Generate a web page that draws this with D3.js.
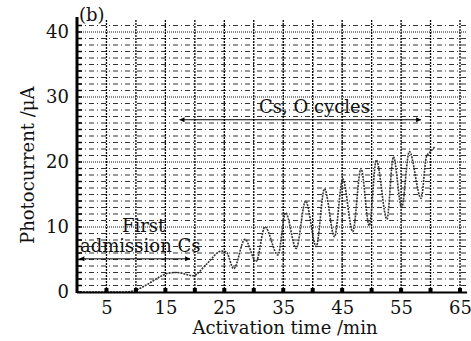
<!DOCTYPE html>
<html>
<head>
<meta charset="utf-8">
<script src="https://cdn.jsdelivr.net/npm/d3@7"></script>
<style>
  body { margin: 0; background: #fff; }
</style>
</head>
<body>
<div id="chart"></div>
<script>
// Photocurrent vs activation time (panel b)

// Data
const times = [0, 5, 8, 10, 12, 14, 15.5, 17, 19.7, 22, 24.5, 25.3, 26.6, 28.5, 30.4, 31.9, 34.1, 35.4, 37.2,
    38.8, 40.6, 42.0, 43.7, 45.1, 46.8, 48.2, 49.6, 50.8, 52.6, 53.7, 55.1, 56.4, 58.4, 59.3, 60.0, 60.7];
const current = [0, 0, 0, 0.3, 1.2, 2.3, 2.9, 3.0, 2.5, 4.3, 6.3, 6.2, 3.6, 8.1, 4.7, 10.0, 5.7, 12.2, 6.7,
    14.0, 7.0, 15.9, 8.5, 17.4, 9.3, 19.0, 10.2, 20.3, 11.2, 20.8, 13.0, 21.6, 14.4, 20.8, 21.6, 22.3];
const xTickLabels = [5, 15, 25, 35, 45, 55, 65];
const yTickLabels = [0, 10, 20, 30, 40];

const FONT = '"DejaVu Serif", "Liberation Serif", serif';

function createChart() {
    const width = 471, height = 341;
    const margin = {top: 32, right: 11, bottom: 49, left: 77};

    const svg = d3.select('#chart').append('svg')
        .attr('width', width)
        .attr('height', height);

    const x = d3.scaleLinear().domain([0, 65]).range([margin.left, 460]);
    const y = d3.scaleLinear().domain([0, 40]).range([292, margin.top]);

    // minor horizontal grid (every 1 uA)
    svg.append('g')
        .selectAll('line')
        .data(d3.range(1, 42).filter(v => v % 10 !== 0))
        .enter()
        .append('line')
        .attr('x1', x(0)).attr('x2', x(66.2))
        .attr('y1', d => y(d)).attr('y2', d => y(d))
        .attr('stroke', '#333')
        .attr('stroke-width', 1)
        .attr('stroke-dasharray', '5,3,1,3');

    // major horizontal grid
    svg.append('g')
        .selectAll('line')
        .data([10, 20, 30, 40])
        .enter()
        .append('line')
        .attr('x1', x(0)).attr('x2', x(66.2))
        .attr('y1', d => y(d)).attr('y2', d => y(d))
        .attr('stroke', '#111')
        .attr('stroke-width', 1)
        .attr('stroke-dasharray', '1,1');

    // vertical grid every 5 min
    svg.append('g')
        .selectAll('line')
        .data(d3.range(5, 66, 5))
        .enter()
        .append('line')
        .attr('x1', d => x(d)).attr('x2', d => x(d))
        .attr('y1', y(0)).attr('y2', y(42))
        .attr('stroke', '#000')
        .attr('stroke-width', 1.3)
        .attr('stroke-dasharray', '2,1');

    // curve
    const line = d3.line()
        .x((d, i) => x(times[i]))
        .y(d => y(d))
        .curve(d3.curveMonotoneX);

    svg.append('path')
        .datum(current)
        .attr('d', line)
        .attr('fill', 'none')
        .attr('stroke', '#333')
        .attr('stroke-width', 1.6)
        .attr('stroke-dasharray', '2,1');

    // left axis
    const yAxis = d3.axisLeft(y)
        .tickValues(yTickLabels)
        .tickSize(0)
        .tickPadding(8);
    const gy = svg.append('g')
        .attr('transform', `translate(${x(0)},0)`)
        .call(yAxis);
    gy.select('.domain').remove();
    gy.selectAll('text')
        .style('font-family', FONT)
        .style('font-size', '18px')
        .attr('fill', '#111');

    svg.append('line')
        .attr('x1', x(0)).attr('x2', x(0))
        .attr('y1', y(0) + 1).attr('y2', y(42.3))
        .attr('stroke', '#000')
        .attr('stroke-width', 3);

    svg.append('g')
        .selectAll('line')
        .data(d3.range(0, 42))
        .enter()
        .append('line')
        .attr('x1', x(0)).attr('x2', x(0) + 5)
        .attr('y1', d => y(d)).attr('y2', d => y(d))
        .attr('stroke', '#000')
        .attr('stroke-width', 1.5);

    // bottom axis
    const xAxis = d3.axisBottom(x)
        .tickValues(xTickLabels)
        .tickSize(0)
        .tickPadding(9);
    const gx = svg.append('g')
        .attr('transform', `translate(0,${y(0)})`)
        .call(xAxis);
    gx.select('.domain').remove();
    gx.selectAll('text')
        .style('font-family', FONT)
        .style('font-size', '18px')
        .attr('fill', '#111');

    svg.append('line')
        .attr('x1', x(0)).attr('x2', x(66.2))
        .attr('y1', y(0) + 0.5).attr('y2', y(0) + 0.5)
        .attr('stroke', '#000')
        .attr('stroke-width', 2);

    svg.append('g')
        .selectAll('rect')
        .data(d3.range(5, 66, 5))
        .enter()
        .append('rect')
        .attr('x', d => x(d) - 2)
        .attr('y', y(0) - 4)
        .attr('width', 4)
        .attr('height', 4)
        .attr('fill', '#000');

    function label(xp, yp, txt) {
        return svg.append('text')
            .attr('x', xp)
            .attr('y', yp)
            .style('font-family', FONT)
            .style('font-size', '18px')
            .attr('fill', '#111')
            .text(txt);
    }

    // axis titles
    label(285, 334, 'Activation time /min').attr('text-anchor', 'middle');
    label(0, 0, 'Photocurrent /μA')
        .attr('text-anchor', 'middle')
        .attr('transform', `translate(34,${y(19.5)}) rotate(-90)`);
    label(79, 21, '(b)');

    // arrows
    const defs = svg.append('defs');
    ['start', 'end'].forEach(k => {
        defs.append('marker')
            .attr('id', 'arrow-' + k)
            .attr('viewBox', '0 0 10 10')
            .attr('refX', k === 'end' ? 10 : 0)
            .attr('refY', 5)
            .attr('markerWidth', 8)
            .attr('markerHeight', 5)
            .attr('markerUnits', 'userSpaceOnUse')
            .attr('orient', 'auto')
            .append('path')
            .attr('d', k === 'end' ? 'M0,0 L10,5 L0,10 Z' : 'M10,0 L0,5 L10,10 Z')
            .attr('fill', '#000');
    });

    function arrow(t0, t1, v) {
        svg.append('line')
            .attr('x1', x(t0)).attr('x2', x(t1))
            .attr('y1', y(v)).attr('y2', y(v))
            .attr('stroke', '#000')
            .attr('stroke-width', 1)
            .attr('marker-start', 'url(#arrow-start)')
            .attr('marker-end', 'url(#arrow-end)');
    }
    arrow(17.4, 58.4, 26.5);
    arrow(0.4, 19.2, 5.1);

    label(259, 113, 'Cs, O cycles');
    label(122, 232, 'First');
    label(80, 252, 'admission Cs');
}

createChart();
</script>
</body>
</html>
